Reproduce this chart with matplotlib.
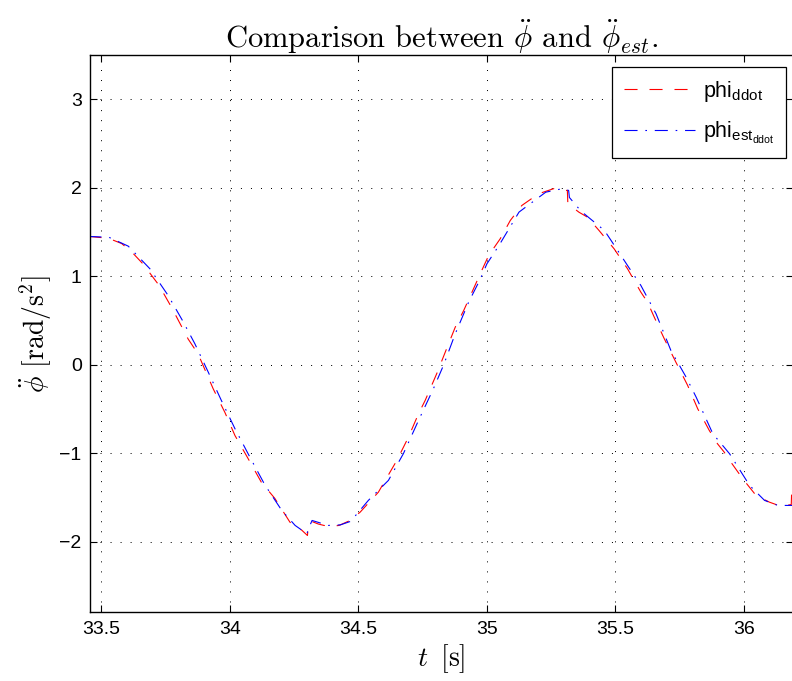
import matplotlib
matplotlib.use('Agg')
import matplotlib.pyplot as plt

# data
t_ref = [33.45, 33.527, 33.579, 33.62, 33.662, 33.724, 33.773, 33.838, 33.877,
         33.935, 33.981, 34.02, 34.071, 34.123, 34.175, 34.234, 34.28, 34.302,
         34.304, 34.318, 34.344, 34.366, 34.396, 34.425, 34.468, 34.507, 34.578,
         34.65, 34.695, 34.734, 34.76, 34.805, 34.838, 34.877, 34.91, 34.942,
         34.98, 35.007, 35.052, 35.091, 35.136, 35.201, 35.26, 35.299, 35.313,
         35.315, 35.358, 35.391, 35.436, 35.495, 35.547, 35.599, 35.625, 35.651,
         35.69, 35.735, 35.781, 35.82, 35.865, 35.897, 35.923, 35.949, 35.995,
         36.047, 36.099, 36.145, 36.184, 36.186, 36.2]
phi_ddot = [1.45, 1.43, 1.37, 1.27, 1.14, 0.90, 0.65, 0.29, 0.12,
            -0.27, -0.54, -0.80, -1.06, -1.33, -1.51, -1.78, -1.87, -1.93,
            -1.86, -1.77, -1.80, -1.816, -1.827, -1.816, -1.76, -1.666, -1.44,
            -1.08, -0.818, -0.554, -0.403, -0.10, 0.142, 0.425, 0.614, 0.82,
            1.065, 1.235, 1.424, 1.63, 1.80, 1.932, 1.99, 1.97, 1.97,
            1.82, 1.724, 1.668, 1.518, 1.31, 1.085, 0.82, 0.707, 0.538,
            0.294, 0.03, -0.234, -0.497, -0.742, -0.893, -0.987, -1.10, -1.288,
            -1.477, -1.553, -1.601, -1.58, -1.40, -1.40]

t_est = [33.45, 33.53, 33.605, 33.689, 33.76, 33.818, 33.864, 33.916, 33.967,
         34.02, 34.078, 34.136, 34.202, 34.254, 34.30, 34.305, 34.32, 34.383,
         34.43, 34.47, 34.539, 34.617, 34.675, 34.734, 34.792, 34.831, 34.877,
         34.929, 34.975, 35.0, 35.047, 35.125, 35.229, 35.294, 35.318, 35.321,
         35.366, 35.457, 35.483, 35.547, 35.599, 35.658, 35.716, 35.775, 35.814,
         35.879, 35.944, 36.022, 36.08, 36.132, 36.2]
phi_est_ddot = [1.45, 1.44, 1.34, 1.085, 0.783, 0.489, 0.237, -0.083, -0.403,
                -0.723, -1.044, -1.356, -1.646, -1.816, -1.91, -1.86, -1.76, -1.816,
                -1.81, -1.77, -1.533, -1.307, -1.006, -0.63, -0.271, -0.008, 0.35,
                0.707, 0.972, 1.14, 1.348, 1.725, 1.95, 1.99, 1.97, 1.89,
                1.736, 1.518, 1.405, 1.122, 0.896, 0.576, 0.16, -0.14, -0.366,
                -0.78, -1.006, -1.364, -1.533, -1.59, -1.59]

x_ticks = [33.5, 34, 34.5, 35, 35.5, 36]
x_labels = ['33.5', '34', '34.5', '35', '35.5', '36']
y_ticks = [-2, -1, 0, 1, 2, 3]
y_labels = ['\u22122', '\u22121', '0', '1', '2', '3']

plt.rcParams['font.family'] = 'Liberation Sans'
plt.rcParams['mathtext.fontset'] = 'custom'
plt.rcParams['mathtext.rm'] = 'Liberation Sans'
plt.rcParams['mathtext.it'] = 'Liberation Sans:italic'
plt.rcParams['mathtext.bf'] = 'Liberation Sans:bold'
plt.rcParams['lines.scale_dashes'] = False

fig = plt.figure(figsize=(7.92, 6.81), dpi=100)
ax = fig.add_axes([0.1136, 0.1006, 0.8874, 0.8186])

l1, = ax.plot(t_ref, phi_ddot, color='#ff0000', linewidth=0.8, label=r'phi$_{\mathrm{ddot}}$')
l1.set_dashes((9.4, 8.6))
l2, = ax.plot(t_est, phi_est_ddot, color='#0000ff', linewidth=0.8,
              label=r'phi$_{\mathrm{est}_{\mathrm{ddot}}}$')
l2.set_dashes((9.4, 5.6, 1.2, 5.6))

ax.set_xlim(33.456, 36.19)
ax.set_ylim(-2.8, 3.5)
ax.set_xticks(x_ticks, x_labels)
ax.set_yticks(y_ticks, y_labels)
ax.tick_params(direction='in', length=5, width=0.8, labelsize=14,
               top=True, right=True, pad=6)
for s in ax.spines.values():
    s.set_linewidth(1.0)

ax.grid(True, color='k', linewidth=0.72, linestyle=(0, (0.72, 6.5)))

ax.set_title(r'Comparison between $\ddot{\phi}$ and $\ddot{\phi}_{est}$.',
             family='cmr10', math_fontfamily='cm', fontsize=22, pad=5)
ax.set_xlabel(r'$t\,$ [s]', family='cmr10', math_fontfamily='cm', fontsize=20, labelpad=3)
ax.set_ylabel(r'$\ddot{\phi}$ [rad/s$^2$]', family='cmr10', math_fontfamily='cm',
              fontsize=20, labelpad=4)

leg = ax.legend(loc='upper right', bbox_to_anchor=(786 / 792, 1 - 67 / 681),
                bbox_transform=fig.transFigure, borderaxespad=0, fontsize=15.5,
                fancybox=False, framealpha=1, edgecolor='k', handlelength=3.3,
                handletextpad=0.34, borderpad=0.55, labelspacing=0.75)
leg.get_frame().set_linewidth(0.9)

fig.savefig('out.png', dpi=100)
